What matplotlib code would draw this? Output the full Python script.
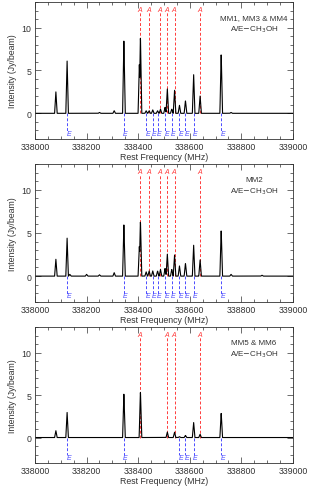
import numpy as np
import matplotlib
matplotlib.use("Agg")
import matplotlib.pyplot as plt
from matplotlib.ticker import MultipleLocator

plt.rcParams['font.family'] = ['Liberation Sans', 'DejaVu Sans']

# methanol line rest frequencies (MHz)
a_lines_full = [338408.7, 338442.4, 338486.3, 338512.9, 338540.8, 338639.8]
e_lines_full = [338124.5, 338344.6, 338430.9, 338456.5, 338475.2, 338504.1,
                338530.2, 338559.9, 338583.2, 338614.9, 338721.7]
a_lines_mm56 = [338408.7, 338512.9, 338540.8, 338639.8]
e_lines_mm56 = [338124.5, 338344.6, 338559.9, 338583.2, 338614.9, 338721.7]

# peak centres and peak intensities (Jy/beam)
freq_mm134 = [338081, 338124.5, 338250, 338307, 338344.6, 338404.6, 338408.7,
              338430.9, 338442.4, 338456.5, 338475.2, 338486.3, 338504.1,
              338512.9, 338530.2, 338540.8, 338559.9, 338583.2, 338614.9,
              338639.8, 338721.7, 338760]
peak_mm134 = [2.5, 6.1, 0.1, 0.3, 8.6, 5.8, 9.1,
              0.3, 0.3, 0.4, 0.3, 0.5, 0.7,
              2.9, 0.5, 2.8, 0.95, 1.5, 4.6,
              2.1, 7.1, 0.1]

freq_mm2 = [338081, 338124.5, 338135, 338200, 338250, 338307, 338344.6,
            338404.6, 338408.7, 338430.9, 338442.4, 338456.5, 338475.2,
            338486.3, 338504.1, 338512.9, 338530.2, 338540.8, 338559.9,
            338583.2, 338614.9, 338639.8, 338721.7, 338760, 338880]
peak_mm2 = [1.95, 4.4, 0.2, 0.2, 0.15, 0.4, 6.05,
            3.5, 6.5, 0.5, 0.6, 0.6, 0.6,
            0.8, 0.9, 2.6, 0.8, 2.55, 1.2,
            1.5, 3.65, 1.95, 5.45, 0.2, 0.1]

freq_mm56 = [338081, 338124.5, 338344.6, 338408.7, 338512.9, 338540.8,
             338559.9, 338583.2, 338614.9, 338639.8, 338721.7]
peak_mm56 = [0.8, 2.95, 5.2, 5.5, 0.65, 0.65,
             0.1, 0.25, 1.8, 0.4, 2.95]

panels = [
    ("MM1, MM3 & MM4", freq_mm134, peak_mm134, a_lines_full, e_lines_full, [0.1125, 0.7137, 0.8296, 0.2802]),
    ("MM2", freq_mm2, peak_mm2, a_lines_full, e_lines_full, [0.1125, 0.3804, 0.8296, 0.2822]),
    ("MM5 & MM6", freq_mm56, peak_mm56, a_lines_mm56, e_lines_mm56, [0.1125, 0.0511, 0.8296, 0.2780]),
]

red = '#ff3b3b'
blue = '#4b4bff'
fs = 6.3

fig = plt.figure(figsize=(3.11, 4.89), dpi=100)

for name, freqs, peaks, alines, elines, pos in panels:
    ax = fig.add_axes(pos)
    grid = np.arange(338000, 339000.1, 0.5)
    spec = np.zeros_like(grid)
    w = 5.0
    for f, h in zip(freqs, peaks):
        spec = np.maximum(spec, np.interp(grid, [f - w, f, f + w], [0, h, 0], left=0, right=0))

    for f in alines:
        ax.plot([f, f], [0, 11.8], ls=(0, (3, 2)), color=red, lw=0.7, zorder=1)
        ax.text(f - 2, 12.15, 'A', color=red, fontsize=5, style='italic',
                ha='center', va='center', zorder=3)
    for f in elines:
        ax.plot([f, f], [0, -2.1], ls=(0, (3, 2)), color=blue, lw=0.7, zorder=1)
        ax.text(f + 6, -2.3, 'E', color=blue, fontsize=5, style='italic',
                ha='center', va='center', zorder=3)

    ax.plot(grid, spec, color='black', lw=0.8, zorder=2)

    ax.set_xlim(338000, 339000)
    ax.set_ylim(-3, 13)
    ax.xaxis.set_major_locator(MultipleLocator(200))
    ax.xaxis.set_minor_locator(MultipleLocator(50))
    ax.yaxis.set_major_locator(MultipleLocator(5))
    ax.yaxis.set_minor_locator(MultipleLocator(1))
    ax.tick_params(which='both', direction='in', top=True, right=True,
                   labelsize=fs, width=0.5, colors='#333333', pad=2.5)
    ax.tick_params(which='major', length=4)
    ax.tick_params(which='minor', length=2)
    ax.xaxis.set_major_formatter(plt.FuncFormatter(lambda v, p: '%d' % v))
    for s in ax.spines.values():
        s.set_linewidth(0.6)
        s.set_color('#333333')
    ax.set_xlabel('Rest Frequency (MHz)', fontsize=fs, labelpad=0.5, color='#333333')
    ax.set_ylabel('Intensity (Jy/beam)', fontsize=fs, labelpad=3, color='#333333')

    ax.text(0.849, 0.885, name, transform=ax.transAxes, fontsize=fs - 0.5,
            ha='center', va='center', color='#333333')
    ax.text(0.849, 0.805, 'A/E$-$CH$_3$OH', transform=ax.transAxes, fontsize=fs - 0.5,
            ha='center', va='center', color='#333333')

fig.savefig('out.png', dpi=100)
